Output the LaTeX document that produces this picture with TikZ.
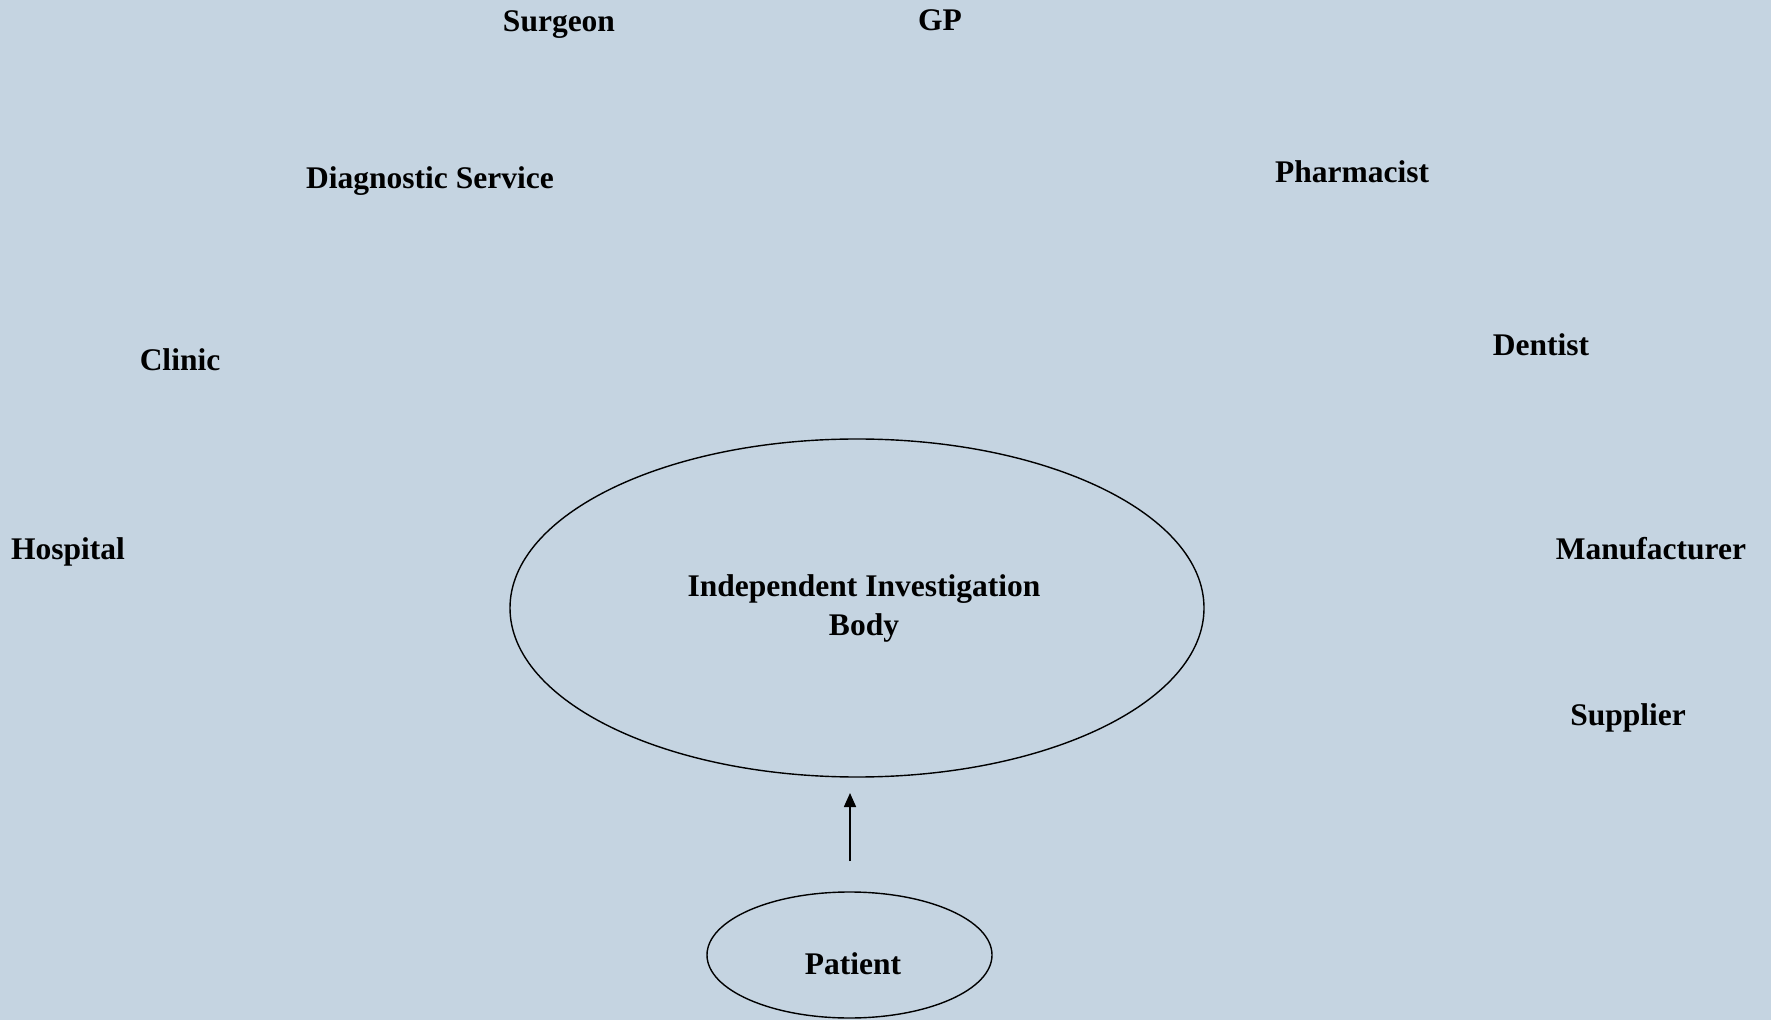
\documentclass[tikz,border=0pt]{standalone}
\usepackage{fontspec}
\setmainfont{Liberation Serif}
\usetikzlibrary{shapes.geometric,arrows.meta}
\definecolor{bgblue}{RGB}{197,212,225}
\begin{document}
\begin{tikzpicture}[x=0.5pt,y=-0.5pt,
  lbl/.style={font=\fontsize{15.75pt}{19.5pt}\selectfont\bfseries, inner sep=0pt, align=center},
  oval/.style={draw, line width=0.7pt, ellipse, inner sep=0pt}]
\fill[bgblue] (0,0) rectangle (1771,1020);
\useasboundingbox (0,0) rectangle (1771,1020);
\node[oval, minimum width=347pt, minimum height=169pt] (iib) at (857,608) {};
\node[lbl] (iibt) at (864,608) {Independent Investigation\\Body};
\node[oval, minimum width=142.5pt, minimum height=63pt] (pat) at (849.5,955) {};
\node[lbl] (patt) at (853,964) {Patient};
\coordinate (arrs) at (850,861);
\coordinate (arre) at (850,793);
\draw[line width=0.8pt, -{Triangle[length=7pt,width=6pt]}] (arrs) -- (arre);
\node[lbl] (surgeon) at (559,24.5) {Surgeon};
\node[lbl] (gp) at (940,20) {GP};
\node[lbl] (diag) at (430,181) {Diagnostic Service};
\node[lbl] (pharm) at (1352,172) {Pharmacist};
\node[lbl] (clinic) at (180,360) {Clinic};
\node[lbl] (dentist) at (1541,345) {Dentist};
\node[lbl] (hosp) at (68,552) {Hospital};
\node[lbl] (manu) at (1651,549) {Manufacturer};
\node[lbl] (supp) at (1628,718) {Supplier};
\end{tikzpicture}
\end{document}
